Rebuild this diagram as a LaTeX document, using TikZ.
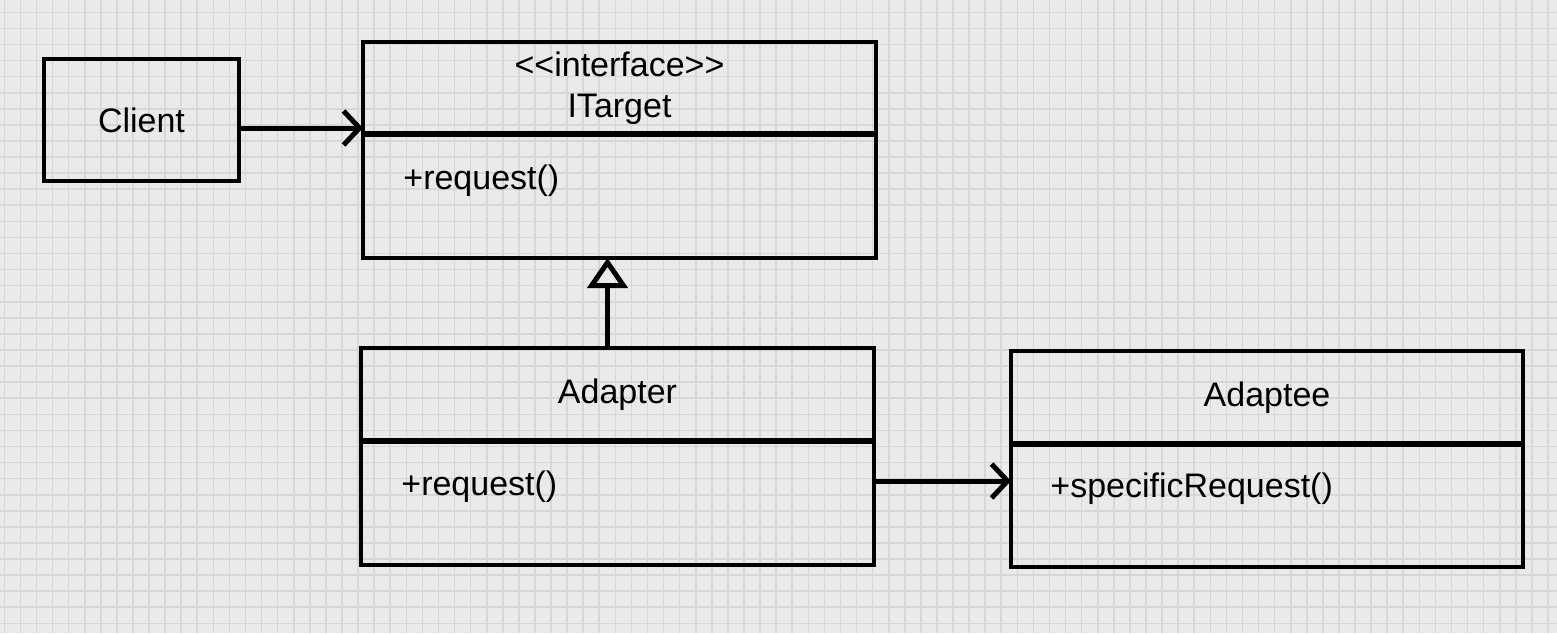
\documentclass[tikz,border=0pt]{standalone}
\usepackage{fontspec}
\newfontfamily\sketchfont{Liberation Sans}
\usetikzlibrary{arrows.meta}
\definecolor{paper}{HTML}{EAEAEA}
\definecolor{gridgray}{HTML}{D7D7D7}
\tikzset{
  box/.style={draw, line width=2pt, inner sep=0pt, outer sep=0pt,
    font=\sketchfont\fontsize{17}{20.5}\selectfont, align=center},
  divider/.style={line width=3pt},
  op/.style={anchor=west, inner sep=0pt, font=\sketchfont\fontsize{17}{20.5}\selectfont},
  assoc/.style={line width=2.5pt, -{Straight Barb[length=8pt,width=17pt,line width=2.5pt]}},
  realize/.style={line width=2.5pt, -{Triangle[open,length=15pt,width=20pt,line width=2.5pt]}},
  gridline/.style={gridgray, line width=0.8pt}
}
\begin{document}
\begin{tikzpicture}[x=0.5pt,y=-0.5pt]
  % paper
  \fill[paper] (0,0) rectangle (1557,633);
  \useasboundingbox (0,0) rectangle (1557,633);
  \foreach \gx in {4.3,20.38,...,1557} \draw[gridline] (\gx,0) -- (\gx,633);
  \foreach \gy in {12.3,28.38,...,633} \draw[gridline] (0,\gy) -- (1557,\gy);

  % client
  \node[box, minimum width=97.5pt, minimum height=61pt] (client) at (141.5,120) {Client};

  % interface
  \node[box, minimum width=256.5pt, minimum height=46pt] (itargethead) at (619.5,88) {<<interface>>\\ITarget};
  \node[box, minimum width=256.5pt, minimum height=62pt] (itargetbody) at (619.5,196) {};
  \draw[divider] (itargethead.south west) -- (itargethead.south east);
  \node[op] (itargetop) at (403,181) {+request()};

  % adapter
  \node[box, minimum width=256.5pt, minimum height=46.5pt] (adapterhead) at (617.5,394.5) {Adapter};
  \node[box, minimum width=256.5pt, minimum height=62pt] (adapterbody) at (617.5,503) {};
  \draw[divider] (adapterhead.south west) -- (adapterhead.south east);
  \node[op] (adapterop) at (401,487) {+request()};

  % adaptee
  \node[box, minimum width=256pt, minimum height=46.5pt] (adapteehead) at (1267,397.5) {Adaptee};
  \node[box, minimum width=256pt, minimum height=61.5pt] (adapteebody) at (1267,505.5) {};
  \draw[divider] (adapteehead.south west) -- (adapteehead.south east);
  \node[op] (adapteeop) at (1050,489) {+specificRequest()};

  % connectors
  \draw[assoc] ([yshift=-4pt]client.east) -- ([yshift=-4pt]client.east -| itargethead.west);
  \draw[realize] ([xshift=-5pt]adapterhead.north) -- ([xshift=-5pt]adapterhead.north |- itargetbody.south);
  \draw[assoc] ([yshift=11pt]adapterbody.east) -- ([yshift=11pt]adapterbody.east -| adapteebody.west);
\end{tikzpicture}
\end{document}
